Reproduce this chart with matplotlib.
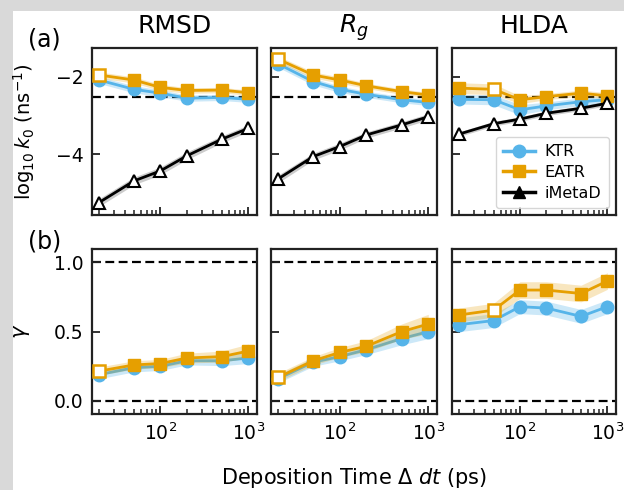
import matplotlib
matplotlib.use("Agg")
import matplotlib.pyplot as plt
from matplotlib.patches import Rectangle
from matplotlib.lines import Line2D
import numpy as np

# ---------------- data ----------------
dt = [20, 50, 100, 200, 500, 1000]
panel_titles = ["RMSD", "$R_g$", "HLDA"]
series_names = ["KTR", "EATR", "iMetaD"]

k0_ref = -2.53  # dashed reference line, top row
gamma_refs = [0.0, 1.0]

# log10 k0 (top row), one list per panel: RMSD, Rg, HLDA
k0_ktr = [
    [-2.08, -2.32, -2.42, -2.55, -2.53, -2.58],
    [-1.66, -2.12, -2.32, -2.45, -2.59, -2.66],
    [-2.58, -2.59, -2.85, -2.75, -2.64, -2.59],
]
k0_eatr = [
    [-1.95, -2.08, -2.27, -2.35, -2.34, -2.41],
    [-1.54, -1.95, -2.08, -2.23, -2.38, -2.47],
    [-2.29, -2.32, -2.59, -2.51, -2.42, -2.49],
]
k0_imetad = [
    [-5.25, -4.69, -4.43, -4.04, -3.61, -3.33],
    [-4.64, -4.06, -3.80, -3.50, -3.24, -3.03],
    [-3.48, -3.21, -3.09, -2.94, -2.81, -2.68],
]
k0_ktr_err = [
    [0.09, 0.09, 0.09, 0.08, 0.08, 0.08],
    [0.09, 0.09, 0.08, 0.08, 0.08, 0.08],
    [0.12, 0.13, 0.13, 0.10, 0.10, 0.09],
]
k0_eatr_err = [
    [0.08, 0.08, 0.08, 0.07, 0.07, 0.07],
    [0.08, 0.08, 0.08, 0.07, 0.07, 0.07],
    [0.14, 0.14, 0.10, 0.08, 0.08, 0.08],
]
k0_imetad_err = [
    [0.10, 0.10, 0.10, 0.10, 0.09, 0.09],
    [0.10, 0.09, 0.09, 0.08, 0.08, 0.08],
    [0.06, 0.06, 0.06, 0.06, 0.06, 0.06],
]

# gamma (bottom row), one list per panel
gamma_ktr = [
    [0.19, 0.24, 0.25, 0.29, 0.29, 0.31],
    [0.16, 0.28, 0.32, 0.37, 0.45, 0.50],
    [0.55, 0.58, 0.68, 0.67, 0.61, 0.68],
]
gamma_eatr = [
    [0.215, 0.26, 0.27, 0.31, 0.32, 0.36],
    [0.17, 0.29, 0.35, 0.395, 0.50, 0.555],
    [0.62, 0.655, 0.80, 0.80, 0.775, 0.865],
]
gamma_ktr_err = [
    [0.03, 0.03, 0.03, 0.03, 0.035, 0.04],
    [0.03, 0.03, 0.03, 0.035, 0.045, 0.05],
    [0.05, 0.05, 0.05, 0.05, 0.05, 0.05],
]
gamma_eatr_err = [
    [0.03, 0.03, 0.03, 0.035, 0.04, 0.05],
    [0.03, 0.03, 0.035, 0.04, 0.055, 0.07],
    [0.05, 0.05, 0.06, 0.06, 0.06, 0.06],
]
# index of the EATR point drawn as an open square, per panel
eatr_open_idx = [0, 0, 1]

# ---------------- style ----------------
C_KTR = "#56B4E9"
C_EATR = "#E69F00"
C_IM = "black"
W, H = 624, 490

plt.rcParams["font.family"] = ["DejaVu Sans"]
plt.rcParams["mathtext.fontset"] = "dejavusans"

fig = plt.figure(figsize=(W / 100, H / 100), dpi=100)
fig.patch.set_facecolor("white")
# screenshot grey borders
fig.patches.append(Rectangle((0, 1 - 11 / H), 1, 11 / H, transform=fig.transFigure,
                             facecolor="#d9d9d9", edgecolor="none", zorder=-10))
fig.patches.append(Rectangle((0, 0), 13 / W, 1, transform=fig.transFigure,
                             facecolor="#d9d9d9", edgecolor="none", zorder=-10))


def rect(x0, y0, x1, y1):
    return [x0 / W, 1 - y1 / H, (x1 - x0) / W, (y1 - y0) / H]


col_x = [(92, 257), (271, 437), (452, 616)]
row_y = [(48.3, 215), (249, 414.3)]

axes = [[fig.add_axes(rect(cx[0], ry[0], cx[1], ry[1])) for cx in col_x] for ry in row_y]

DASH = (0, (4, 2))


def style_axis(ax, show_x, show_y):
    ax.set_xscale("log")
    ax.set_xlim(16.7, 1255)
    for sp in ax.spines.values():
        sp.set_linewidth(1.6)
        sp.set_color("#222222")
    ax.tick_params(which="both", direction="in", top=False, right=False,
                   color="#222222", labelsize=13.5)
    ax.tick_params(which="major", length=6, width=1.3, pad=6)
    ax.tick_params(which="minor", length=3.5, width=1.1)
    if not show_x:
        ax.tick_params(axis="x", which="both", labelbottom=False)
    if not show_y:
        ax.tick_params(axis="y", which="both", labelleft=False)


def plot_line(ax, y, err, color, marker, ms, band_alpha, open_idx=None, z=3):
    y = np.asarray(y)
    err = np.asarray(err)
    ax.fill_between(dt, y - err, y + err, color=color, alpha=band_alpha,
                    linewidth=0, zorder=z - 1)
    ax.plot(dt, y, color=color, lw=2.0, zorder=z)
    if color == C_IM:
        ax.plot(dt, y, linestyle="none", marker=marker, ms=ms, mfc="white",
                mec="black", mew=1.5, zorder=z + 0.5)
    else:
        filled = [i for i in range(len(dt)) if i != open_idx]
        ax.plot([dt[i] for i in filled], y[filled], linestyle="none", marker=marker,
                ms=ms, color=color, zorder=z + 0.5)
        if open_idx is not None:
            ax.plot([dt[open_idx]], [y[open_idx]], linestyle="none", marker=marker,
                    ms=ms - 1, mfc="white", mec=color, mew=1.8, zorder=z + 0.6)


for j in range(3):
    ax = axes[0][j]
    style_axis(ax, show_x=False, show_y=(j == 0))
    ax.axhline(k0_ref, color="black", lw=1.6, ls=DASH, zorder=1)
    plot_line(ax, k0_ktr[j], k0_ktr_err[j], C_KTR, "o", 9, 0.3, z=3)
    plot_line(ax, k0_eatr[j], k0_eatr_err[j], C_EATR, "s", 9, 0.25,
              open_idx=eatr_open_idx[j], z=4)
    plot_line(ax, k0_imetad[j], k0_imetad_err[j], C_IM, "^", 8.5, 0.2, z=5)
    ax.set_ylim(-5.57, -1.26)
    ax.set_yticks([-4, -2])
    ax.set_yticklabels(["\u22124", "\u22122"])
    ax.set_title(panel_titles[j], fontsize=18, pad=11)

    ax = axes[1][j]
    style_axis(ax, show_x=True, show_y=(j == 0))
    for g in gamma_refs:
        ax.axhline(g, color="black", lw=1.6, ls=DASH, zorder=1)
    plot_line(ax, gamma_ktr[j], gamma_ktr_err[j], C_KTR, "o", 9, 0.3, z=3)
    plot_line(ax, gamma_eatr[j], gamma_eatr_err[j], C_EATR, "s", 9, 0.25,
              open_idx=eatr_open_idx[j], z=4)
    ax.set_ylim(-0.096, 1.096)
    ax.set_yticks([0.0, 0.5, 1.0])
    ax.set_yticklabels(["0.0", "0.5", "1.0"])

# legend
handles = [
    Line2D([], [], color=C_KTR, lw=2.5, marker="o", ms=9),
    Line2D([], [], color=C_EATR, lw=2.5, marker="s", ms=9),
    Line2D([], [], color="black", lw=2.5, marker="^", ms=9),
]
axes[0][2].legend(handles, series_names, loc="lower right", fontsize=11.5,
                  frameon=True, borderaxespad=0.45, handlelength=2.0,
                  borderpad=0.45, labelspacing=0.35, handletextpad=0.6)

# labels
fig.text(24 / W, 1 - 131.6 / H, r"$\log_{10}k_0$ (ns$^{-1}$)", rotation=90,
         ha="center", va="center", fontsize=14)
fig.text(21.5 / W, 1 - 331 / H, r"$\gamma$", rotation=90, ha="center",
         va="center", fontsize=15)
fig.text(28 / W, 1 - 40 / H, "(a)", ha="left", va="center", fontsize=17)
fig.text(28 / W, 1 - 241 / H, "(b)", ha="left", va="center", fontsize=17)
fig.text(354 / W, 1 - 484 / H, r"Deposition Time $\Delta$ $dt$ (ps)",
         ha="center", va="baseline", fontsize=15)

fig.savefig("out.png", dpi=100)
